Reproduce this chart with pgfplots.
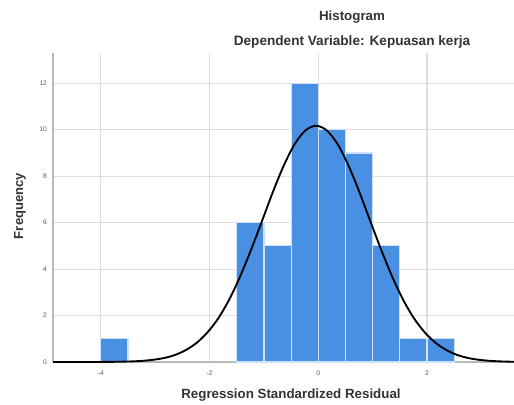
\documentclass[border=0pt]{standalone}
\usepackage{pgfplots}
\pgfplotsset{compat=1.18}
\usepackage{fontspec}
\setmainfont{Liberation Sans}
\definecolor{barblue}{RGB}{74,144,226}
\definecolor{baredge}{RGB}{205,225,250}
\definecolor{gridgray}{RGB}{222,222,222}
\definecolor{axgray}{RGB}{185,185,185}
\begin{document}
\begin{tikzpicture}[x=0.75pt,y=0.75pt]
\useasboundingbox (0,0) rectangle (514,404);
\begin{axis}[
  at={(53*0.75pt,42*0.75pt)}, anchor=south west,
  scale only axis, width=461*0.75pt, height=309*0.75pt,
  xmin=-4.88, xmax=3.6, ymin=0, ymax=13.3,
  axis x line=bottom, axis y line=left,
  axis line style={axgray, line width=1pt, -},
  xtick={-4,-2,0,2}, ytick={0,2,4,6,8,10,12},
  grid=major, major grid style={gridgray, line width=0.8pt},
  major tick length=0pt,
  tick label style={font=\fontsize{5}{6}\selectfont, text=black!65},
  /pgf/number format/assume math mode=true,
  xticklabel style={yshift=-3pt},
  yticklabel style={xshift=-1pt},
  clip=false,
]
\addplot[ybar interval, fill=barblue, draw=baredge, line width=0.9pt] coordinates {
  (-4,1) (-3.5,1)
};
\addplot[ybar interval, fill=barblue, draw=baredge, line width=0.9pt] coordinates {
  (-1.5,6) (-1.0,5) (-0.5,12) (0.0,10) (0.5,9) (1.0,5) (1.5,1) (2.0,1) (2.5,1)
};
\addplot[black, line width=1.4pt, smooth] coordinates {
  (-4.88,0) (-4.44,0.0005) (-4.04,0.002) (-3.84,0.0055) (-3.64,0.012) (-3.44,0.025)
  (-3.24,0.049) (-3.04,0.094) (-2.84,0.17) (-2.64,0.30) (-2.44,0.51)
  (-2.24,0.82) (-2.04,1.27) (-1.84,1.88) (-1.64,2.68) (-1.44,3.67)
  (-1.24,4.81) (-1.04,6.04) (-0.84,7.29) (-0.64,8.43) (-0.44,9.36)
  (-0.24,9.96) (-0.04,10.17) (0.16,9.96) (0.36,9.36) (0.56,8.43)
  (0.76,7.29) (0.96,6.04) (1.16,4.81) (1.36,3.67) (1.56,2.68)
  (1.76,1.88) (1.96,1.27) (2.16,0.82) (2.36,0.51) (2.56,0.30)
  (2.76,0.17) (2.96,0.094) (3.16,0.049) (3.36,0.025) (3.56,0.012) (3.6,0.011)
};
\end{axis}
\node[font=\fontsize{10}{11}\selectfont\bfseries, text=black!80] at (352,387) {Histogram};
\node[font=\fontsize{10.2}{11}\selectfont\bfseries, text=black!80] at (352,362) {Dependent Variable: Kepuasan kerja};
\node[font=\fontsize{10}{11}\selectfont\bfseries, text=black!80] at (291,9) {Regression Standardized Residual};
\node[font=\fontsize{9.8}{11}\selectfont\bfseries, text=black!80, rotate=90] at (20,198) {Frequency};
\end{tikzpicture}
\end{document}
